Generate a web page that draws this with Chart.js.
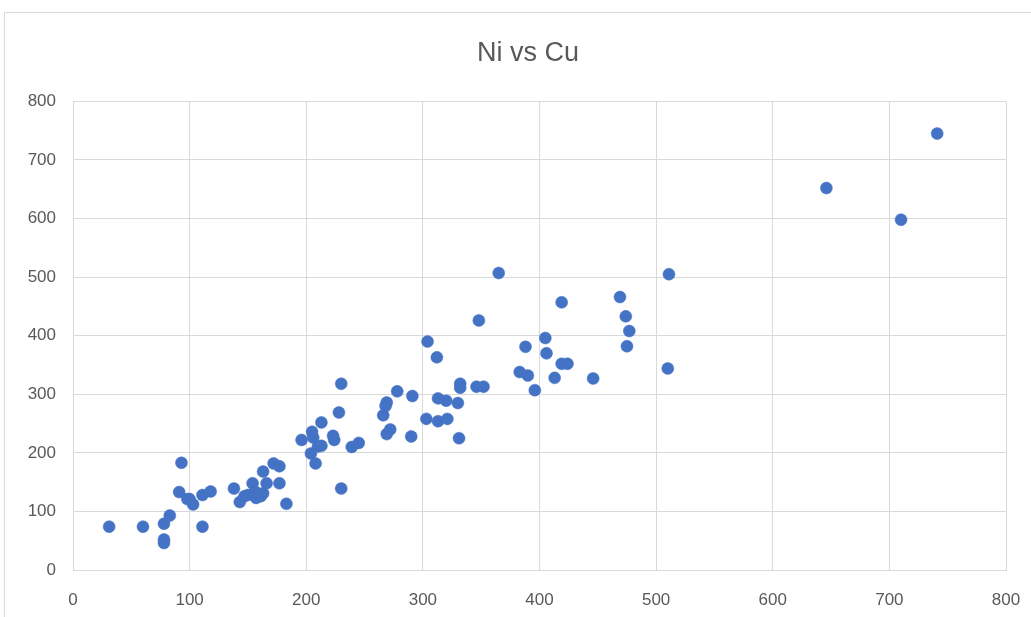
<!DOCTYPE html>
<html>
<head>
<meta charset="utf-8">
<script src="https://cdn.jsdelivr.net/npm/chart.js@4/dist/chart.umd.min.js"></script>
<style>
  html, body { margin: 0; padding: 0; background: #ffffff; overflow: hidden; }
  #frame {
    position: absolute; left: 4px; top: 12px; width: 1100px; height: 700px;
    border: 1px solid #d9d9d9; box-sizing: border-box;
  }
  #wrap { position: absolute; left: 0; top: 0; width: 1031px; height: 617px; }
</style>
</head>
<body>
<div id="frame"></div>
<div id="wrap"><canvas id="chart"></canvas></div>
<script>
// Cu (x) and Ni (y)
const cu = [31, 60, 78, 78, 78, 83, 93, 91, 98, 100, 103, 111, 111, 118, 138, 143, 147, 150,
  154, 156, 157, 161, 163, 163, 166, 172, 177, 177, 183, 196, 205, 206, 204, 208, 210, 213,
  213, 223, 224, 228, 230, 230, 239, 245, 266, 268, 269, 269, 272, 278, 290, 291, 303, 304,
  312, 313, 313, 320, 321, 330, 332, 332, 331, 346, 348, 352, 365, 383, 388, 390, 396, 405,
  406, 413, 419, 419, 424, 446, 469, 474, 477, 475, 511, 510, 646, 710, 741];
const ni = [74, 74, 52, 46, 79, 93, 183, 133, 121, 121, 112, 74, 128, 134, 139, 116, 126, 128,
  148, 134, 123, 126, 131, 168, 148, 182, 177, 148, 113, 222, 236, 226, 199, 182, 211, 212,
  252, 229, 222, 269, 318, 139, 210, 217, 264, 280, 286, 232, 240, 305, 228, 297, 258, 390,
  363, 293, 254, 289, 258, 285, 318, 311, 225, 313, 426, 313, 507, 338, 381, 332, 307, 396,
  370, 328, 457, 352, 352, 327, 466, 433, 408, 382, 505, 344, 652, 598, 745];

const xTicks = [0, 100, 200, 300, 400, 500, 600, 700, 800];
const yTicks = [0, 100, 200, 300, 400, 500, 600, 700, 800];

const points = cu.map((x, i) => ({ x: x, y: ni[i] }));
const grey = "#595959";
const gridColor = "#d9d9d9";

// Excel centres the title a bit right of the canvas middle
const shiftTitle = {
  id: "shiftTitle",
  afterLayout(chart) {
    const t = chart.titleBlock;
    if (t) { t.left = 50; t.right = 1006; }
  }
};

new Chart(document.getElementById("chart"), {
  type: "scatter",
  data: {
    datasets: [{
      label: "Ni",
      data: points,
      backgroundColor: "#4472c4",
      borderColor: "#4472c4",
      borderWidth: 0.5,
      pointRadius: 6,
      pointHoverRadius: 6
    }]
  },
  options: {
    responsive: true,
    maintainAspectRatio: false,
    animation: false,
    layout: { padding: { left: 0, right: 25, top: 0, bottom: 0 } },
    plugins: {
      legend: { display: false },
      tooltip: { enabled: false },
      title: {
        display: true,
        text: "Ni vs Cu",
        color: grey,
        font: { family: "Liberation Sans", size: 27, weight: "normal" },
        padding: { top: 37, bottom: 32 }
      }
    },
    scales: {
      x: {
        type: "linear",
        min: xTicks[0],
        max: xTicks[xTicks.length - 1],
        afterBuildTicks: s => { s.ticks = xTicks.map(v => ({ value: v })); },
        afterFit: s => { s.height = 47; s.paddingLeft = 0; s.paddingRight = 0; },
        grid: { color: gridColor, drawTicks: false },
        border: { color: gridColor },
        ticks: {
          color: grey,
          padding: 20,
          maxRotation: 0,
          font: { family: "Liberation Sans", size: 17 }
        }
      },
      y: {
        type: "linear",
        min: yTicks[0],
        max: yTicks[yTicks.length - 1],
        afterBuildTicks: s => { s.ticks = yTicks.map(v => ({ value: v })); },
        afterFit: s => { s.width = 73; s.paddingTop = 0; s.paddingBottom = 0; },
        grid: { color: gridColor, drawTicks: false },
        border: { color: gridColor },
        ticks: {
          color: grey,
          padding: 17,
          font: { family: "Liberation Sans", size: 17 }
        }
      }
    }
  },
  plugins: [shiftTitle]
});
</script>
</body>
</html>
